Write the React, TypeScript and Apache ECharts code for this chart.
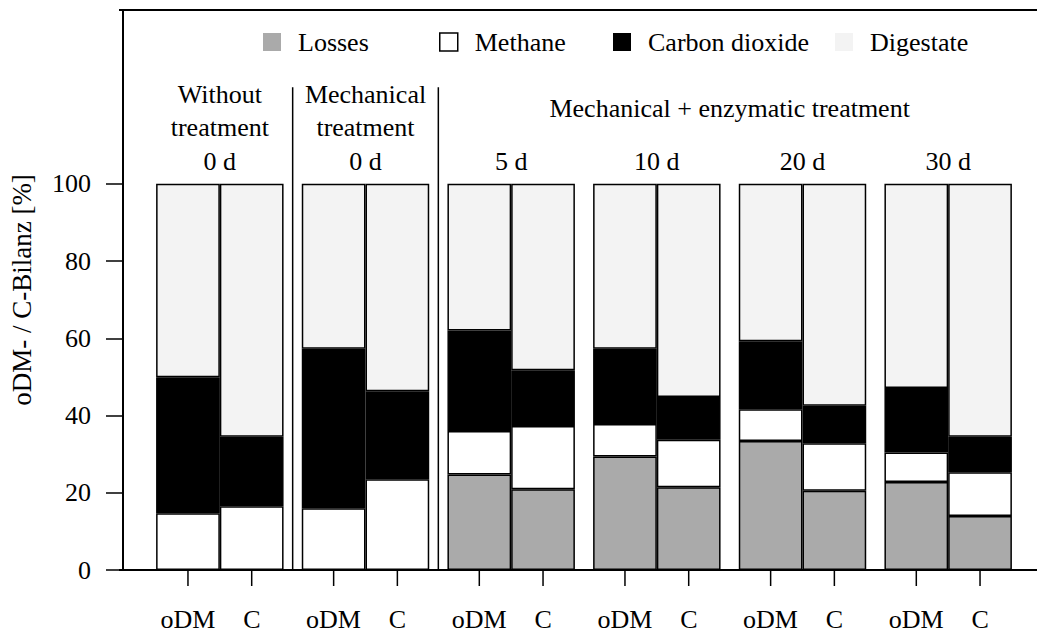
import React, { useEffect, useRef } from 'react';
import * as echarts from 'echarts';

// ---- data ----
const groups = ['Without treatment 0 d', 'Mechanical treatment 0 d', 'Mech.+enz. 5 d', 'Mech.+enz. 10 d', 'Mech.+enz. 20 d', 'Mech.+enz. 30 d'];
const dayLabels = ['0 d', '0 d', '5 d', '10 d', '20 d', '30 d'];
const treatmentLabels = ['Without\ntreatment', 'Mechanical\ntreatment', '', '', '', ''];
const enzymaticTitle = 'Mechanical + enzymatic treatment';
const measures = ['oDM', 'C'];
const components = ['Losses', 'Methane', 'Carbon dioxide', 'Digestate'];

const oDMLosses = [0, 0, 24.7, 29.4, 33.4, 22.8];
const oDMMethane = [14.7, 16.0, 11.3, 8.4, 8.2, 7.6];
const oDMCarbonDioxide = [35.2, 41.3, 26.0, 19.5, 17.6, 16.7];
const oDMDigestate = [50.1, 42.7, 38.0, 42.7, 40.8, 52.9];

const cLosses = [0, 0, 20.9, 21.4, 20.5, 14.0];
const cMethane = [16.5, 23.5, 16.4, 12.3, 12.3, 11.3];
const cCarbonDioxide = [18.0, 22.8, 14.4, 11.1, 9.7, 9.2];
const cDigestate = [65.5, 53.7, 48.3, 55.2, 57.5, 65.5];

const yTicks = [0, 20, 40, 60, 80, 100];
const yLabel = 'oDM- / C-Bilanz [%]';

const FONT = '"Liberation Serif", "Times New Roman", serif';
const FS = 26;
const colors: Record<string, string> = {
  Losses: '#aaaaaa',
  Methane: '#ffffff',
  'Carbon dioxide': '#000000',
  Digestate: '#f3f3f3',
};
const CAT_GAP = 0.125;
const GRID_LEFT = 143;
const GRID_RIGHT = 16;
const CHART_W = 1037;

export default function App() {
  const ref = useRef<HTMLDivElement>(null);
  useEffect(() => {
    if (!ref.current) return;
    const chart = echarts.init(ref.current, undefined, { renderer: 'svg' });
    const seriesData: Record<string, number[][]> = {
      oDM: [oDMLosses, oDMMethane, oDMCarbonDioxide, oDMDigestate],
      C: [cLosses, cMethane, cCarbonDioxide, cDigestate],
    };
    const barSeries: any[] = [];
    measures.forEach((m) => {
      components.forEach((comp, ci) => {
        barSeries.push({
          type: 'bar',
          name: comp,
          stack: m,
          data: seriesData[m][ci],
          barGap: '0%',
          barCategoryGap: CAT_GAP * 100 + '%',
          itemStyle: { color: colors[comp], borderColor: '#000', borderWidth: 1.5 },
          emphasis: { disabled: true },
        });
      });
    });

    const legendLefts = [263, 439, 613, 835];
    const legends = components.map((comp, i) => ({
      show: true,
      left: legendLefts[i],
      top: 29,
      padding: 0,
      icon: 'rect',
      itemWidth: 18,
      itemHeight: 18,
      selectedMode: false,
      data: [
        {
          name: comp,
          itemStyle: comp === 'Methane'
            ? { color: '#fff', borderColor: '#000', borderWidth: 1.5 }
            : { borderWidth: 0 },
        },
      ],
      textStyle: { fontFamily: FONT, fontSize: FS, color: '#000', padding: [0, 0, 0, 12] },
    }));

    const custom = {
      type: 'custom',
      data: groups.map((_, i) => [i, 0]),
      encode: { x: 0, y: 1 },
      clip: false,
      z: 10,
      silent: true,
      renderItem: (params: any, api: any) => {
        const i = params.dataIndex;
        const [cx, y0] = api.coord([i, 0]);
        const y100 = api.coord([i, 100])[1];
        const cw = api.size([1, 0])[0];
        const bw = (cw * (1 - CAT_GAP)) / 2;
        const children: any[] = [];
        [cx - bw / 2, cx + bw / 2].forEach((tx) => {
          children.push({
            type: 'line',
            shape: { x1: tx, y1: y0, x2: tx, y2: y0 + 16 },
            style: { stroke: '#000', lineWidth: 1.5 },
          });
        });
        if (i === 1 || i === 2) {
          const sx = cx - cw / 2;
          children.push({
            type: 'line',
            shape: { x1: sx, y1: y0, x2: sx, y2: api.coord([i, 125])[1] },
            style: { stroke: '#000', lineWidth: 1.5 },
          });
        }
        children.push({
          type: 'text',
          x: cx,
          y: y100 - 22,
          style: { text: dayLabels[i], fontFamily: FONT, fontSize: FS, fill: '#000', align: 'center', verticalAlign: 'middle' },
        });
        if (treatmentLabels[i]) {
          children.push({
            type: 'text',
            x: cx,
            y: y100 - 40,
            style: { text: treatmentLabels[i], fontFamily: FONT, fontSize: FS, lineHeight: 33, fill: '#000', align: 'center', verticalAlign: 'bottom' },
          });
        }
        if (i === 2) {
          const endX = api.coord([groups.length - 1, 0])[0];
          children.push({
            type: 'text',
            x: (cx + endX) / 2,
            y: y100 - 75,
            style: { text: enzymaticTitle, fontFamily: FONT, fontSize: FS, fill: '#000', align: 'center', verticalAlign: 'middle' },
          });
        }
        return { type: 'group', children };
      },
    };

    const catWidth = (CHART_W - GRID_LEFT - GRID_RIGHT) / groups.length;
    const barW = (catWidth * (1 - CAT_GAP)) / 2;

    chart.setOption({
      animation: false,
      backgroundColor: '#fff',
      textStyle: { fontFamily: FONT },
      legend: legends,
      grid: { left: GRID_LEFT, right: GRID_RIGHT, top: 10, bottom: 65, containLabel: false },
      xAxis: {
        type: 'category',
        data: groups,
        axisLine: { show: false },
        axisTick: { show: false },
        axisLabel: {
          interval: 0,
          margin: 36,
          fontFamily: FONT,
          fontSize: FS,
          color: '#000',
          formatter: () => `{a|${measures[0]}}{b|${measures[1]}}`,
          rich: {
            a: { width: barW, align: 'center', fontFamily: FONT, fontSize: FS, color: '#000' },
            b: { width: barW, align: 'center', fontFamily: FONT, fontSize: FS, color: '#000' },
          },
        },
        splitLine: { show: false },
      },
      yAxis: {
        type: 'value',
        min: 0,
        max: 145,
        interval: 20,
        offset: 24,
        name: yLabel,
        nameLocation: 'middle',
        nameGap: 88,
        nameTextStyle: { fontFamily: FONT, fontSize: 27, color: '#000' },
        axisLine: { show: true, lineStyle: { color: '#000', width: 2 } },
        axisTick: { show: true, length: 17, customValues: yTicks, lineStyle: { color: '#000', width: 1.5 } },
        axisLabel: { customValues: yTicks, margin: 32, fontFamily: FONT, fontSize: FS, color: '#000' },
        splitLine: { show: false },
      },
      graphic: [
        { type: 'line', shape: { x1: 119, y1: 570, x2: CHART_W, y2: 570 }, style: { stroke: '#000', lineWidth: 2 }, z: 20 },
        { type: 'line', shape: { x1: 119, y1: 10, x2: CHART_W, y2: 10 }, style: { stroke: '#000', lineWidth: 2 }, z: 20 },
      ],
      series: [...barSeries, custom],
    });
    return () => chart.dispose();
  }, []);
  return <div ref={ref} style={{ position: 'fixed', left: 0, top: 0, width: CHART_W, height: 635, background: '#fff' }} />;
}
